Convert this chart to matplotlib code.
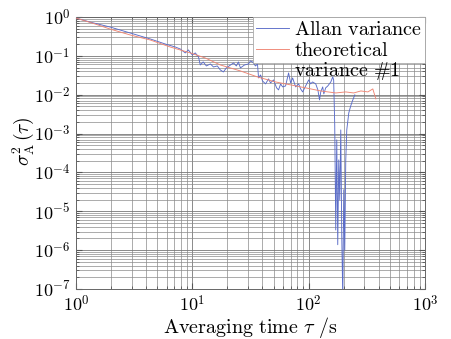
import matplotlib
matplotlib.use("Agg")
import matplotlib.pyplot as plt
from matplotlib.ticker import LogLocator, FuncFormatter, NullFormatter
import numpy as np

plt.rcParams['mathtext.fontset'] = 'cm'
plt.rcParams['font.family'] = ['DejaVu Serif']

# Allan variance (measured)
allan_tau = [1.0, 1.32, 1.96, 2.92, 4.35, 5.85, 7.14, 7.88, 8.70, 9.24, 10.0, 10.6, 11.3,
             11.7, 12.4, 13.2, 14.3, 15.2, 16.4, 17.4, 18.5, 19.6, 21.3, 22.6, 23.9, 24.9,
             25.9, 28.1, 30.4, 31.6, 32.9, 34.9, 36.3, 37.1, 38.6, 40.1, 42.6, 45.2, 47.0,
             49.9, 53.0, 55.1, 57.4, 59.7, 63.3, 67.2, 70.0, 72.8, 77.3, 82.0, 85.3, 88.8,
             94.2, 100, 104, 108, 115, 120, 124, 127, 132, 135, 140, 146, 155, 161, 164,
             167.5, 170.9, 174.4, 177.8, 181.4, 185.0, 188.8, 192.5, 196.4, 200.3, 204.3,
             208.4, 212.6, 221.2, 230.1, 239.5, 249.2]
allan_val = [0.94, 0.74, 0.553, 0.388, 0.272, 0.202, 0.169, 0.150, 0.119, 0.142, 0.105, 0.119, 0.0937,
             0.0583, 0.0697, 0.0550, 0.0619, 0.0518, 0.0550, 0.0434, 0.0386, 0.0489, 0.0583, 0.0657, 0.0550, 0.0697,
             0.0489, 0.0583, 0.0619, 0.0740, 0.0697, 0.0550, 0.0619, 0.0270, 0.0323, 0.0226, 0.0190, 0.0255, 0.0201,
             0.0240, 0.0150, 0.0133, 0.0190, 0.0159, 0.0168, 0.0363, 0.0201, 0.0270, 0.0159, 0.0190, 0.0141, 0.0118,
             0.0168, 0.0240, 0.0190, 0.0213, 0.0190, 0.0133, 0.00735, 0.0118, 0.0159, 0.0105, 0.0150, 0.0168, 0.0213, 0.0287, 0.0240,
             1.67e-3, 3.3e-6, 6.9e-4, 1.38e-6, 2.1e-4, 1.98e-5, 1.24e-3, 2.5e-6, 5.3e-8, 3.6e-5, 1.0e-6,
             2.1e-4, 1.24e-3, 3.4e-3, 5.2e-3, 7.3e-3, 9.9e-3]

# theoretical variance #1
theo_tau = [1.0, 1.46, 1.96, 2.92, 4.35, 6.46, 9.61, 12.9, 17.4, 25.9, 36.3, 51.9, 70.0,
            94.2, 127, 171, 208, 244, 281, 323, 356, 378]
theo_val = [0.94, 0.661, 0.491, 0.345, 0.256, 0.169, 0.119, 0.0883, 0.0583, 0.0409, 0.0287,
            0.0213, 0.0179, 0.0150, 0.0125, 0.0111, 0.0118, 0.0111, 0.0125, 0.0118, 0.0141, 0.0078]

labels = ['Allan variance', 'theoretical', 'variance #1']

W, H = 452, 339
fig = plt.figure(figsize=(W / 100, H / 100), dpi=100, facecolor='white')
ax = fig.add_axes([76/W, 1-289/H, 349/W, 272/H])

ax.plot(allan_tau, allan_val, color='#5a6cc8', lw=0.65, label=labels[0], zorder=3)
ax.plot(theo_tau, theo_val, color='#ef8573', lw=0.65, label=labels[1], zorder=3)

ax.set_xscale('log')
ax.set_yscale('log')
ax.set_xlim(1, 1000)
ax.set_ylim(1e-7, 1)

fmt = FuncFormatter(lambda v, p: r'$10^{%d}$' % int(round(np.log10(v))))
ax.xaxis.set_major_locator(LogLocator(base=10, numticks=10))
ax.yaxis.set_major_locator(LogLocator(base=10, numticks=10))
ax.xaxis.set_minor_locator(LogLocator(base=10, subs=np.arange(2, 10), numticks=20))
ax.yaxis.set_minor_locator(LogLocator(base=10, subs=np.arange(2, 10), numticks=20))
ax.xaxis.set_major_formatter(fmt)
ax.yaxis.set_major_formatter(fmt)
ax.xaxis.set_minor_formatter(NullFormatter())
ax.yaxis.set_minor_formatter(NullFormatter())

ax.tick_params(which='both', direction='in', top=True, right=True, labelsize=13,
               color='#555555')
ax.tick_params(which='major', length=4, pad=4)
ax.tick_params(which='minor', length=2)
ax.tick_params(axis='x', which='major', pad=4)

ax.grid(True, which='major', color='#777777', lw=0.6)
ax.grid(True, which='minor', color='#8a8a8a', lw=0.5)
ax.set_axisbelow(True)
for s in ax.spines.values():
    s.set_color('#666666')
    s.set_linewidth(0.7)

ax.set_xlabel(r'$\mathrm{Averaging\ time}\ \tau\ \mathrm{/s}$', fontsize=14.5, va='top')
ax.xaxis.set_label_coords(0.5, -(315 - 289) / 272)
ax.set_ylabel(r'$\sigma_{\mathrm{A}}^{2}\,(\tau)$', fontsize=14, va='center')
ax.yaxis.set_label_coords((23 - 76) / 349, 1 - (141 - 17) / 272)

leg = ax.legend(labels=[r'$\mathrm{Allan\ variance}$', r'$\mathrm{theoretical}$'],
                loc='upper right', borderaxespad=0, fontsize=14.5, frameon=True,
                fancybox=False, framealpha=1, edgecolor='#aaaaaa',
                handlelength=1.65, handletextpad=0.25, labelspacing=0.1, borderpad=0.15)
leg.get_frame().set_linewidth(0.6)
leg.set_zorder(5)

fig.canvas.draw()
t2 = leg.get_texts()[1]
r = fig.canvas.get_renderer()
b2 = t2.get_window_extent(r)
xa = ax.transAxes.inverted().transform((b2.x0, 0))[0]
ya = 1 - (76 - 17) / 272   # baseline of the overflowing third label line
ax.text(xa, ya, r'$\mathrm{variance\ \#1}$', transform=ax.transAxes, fontsize=14.5,
        ha='left', va='baseline', zorder=6)

fig.savefig('out.png', dpi=100, facecolor='white')
